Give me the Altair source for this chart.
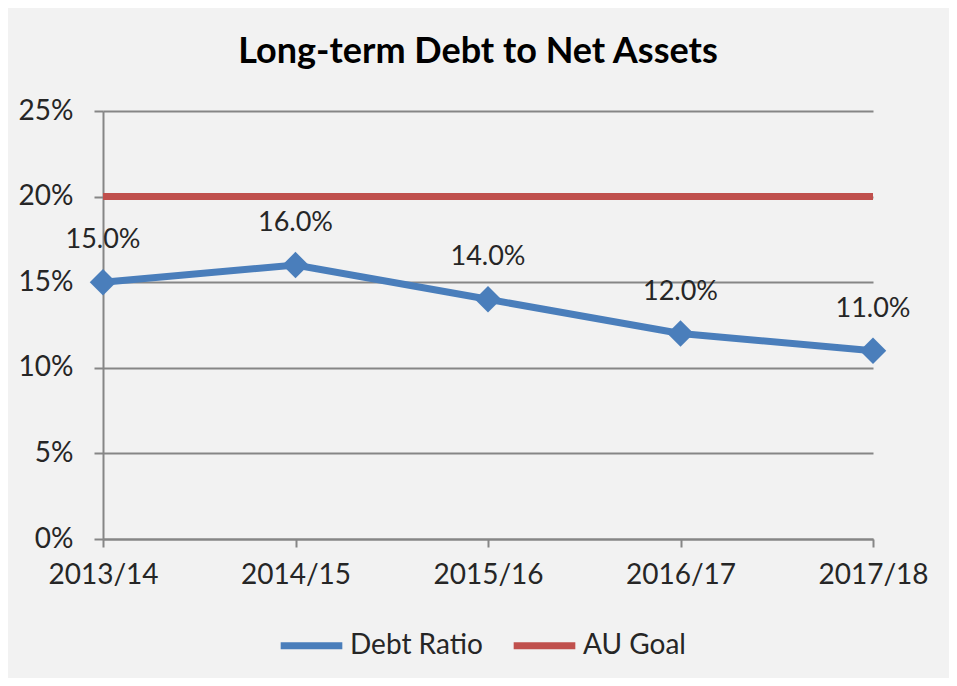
import altair as alt
import pandas as pd

years = ["2013/14", "2014/15", "2015/16", "2016/17", "2017/18"]
debt_ratio = [0.15, 0.16, 0.14, 0.12, 0.11]
au_goal = [0.20, 0.20, 0.20, 0.20, 0.20]
series_names = ["Debt Ratio", "AU Goal"]
series_colors = ["#4a7ebb", "#c0504d"]

rows = []
for y, v in zip(years, debt_ratio):
    rows.append({"year": y, "value": v, "series": "Debt Ratio"})
for y, v in zip(years, au_goal):
    rows.append({"year": y, "value": v, "series": "AU Goal"})
df = pd.DataFrame(rows)

FONT = "Lato"

x = alt.X("year:N", sort=years, title=None,
          scale=alt.Scale(type="point", padding=0),
          axis=alt.Axis(labelAngle=0, labelFontSize=28, labelColor="#262626",
                        labelFont=FONT, labelPadding=14, tickSize=8,
                        tickColor="#868686", tickWidth=2, domainColor="#868686",
                        domainWidth=2, grid=False))
y = alt.Y("value:Q", title=None,
          scale=alt.Scale(domain=[0, 0.25], nice=False),
          axis=alt.Axis(format=".0%", values=[0, 0.05, 0.10, 0.15, 0.20, 0.25],
                        labelFontSize=28, labelColor="#262626", labelFont=FONT,
                        labelPadding=21, tickSize=9, tickColor="#868686",
                        tickWidth=2, domainColor="#868686", domainWidth=2,
                        gridColor="#868686", gridWidth=2))
color = alt.Color("series:N", sort=series_names,
                  scale=alt.Scale(domain=series_names, range=series_colors),
                  legend=alt.Legend(title=None, orient="none", legendX=174, legendY=500,
                                    direction="horizontal", symbolType="stroke",
                                    symbolSize=3800, symbolStrokeWidth=7,
                                    labelFontSize=28, labelFont=FONT,
                                    labelColor="#262626", columnPadding=16,
                                    labelOffset=4))

base = alt.Chart(df)
lines = base.mark_line(strokeWidth=7).encode(x=x, y=y, color=color)
points = base.transform_filter(alt.datum.series == "Debt Ratio").mark_point(
    shape="diamond", filled=True, size=700, opacity=1, color="#4a7ebb"
).encode(x=x, y=y)
labels = base.transform_filter(alt.datum.series == "Debt Ratio").mark_text(
    dy=-42, fontSize=27, font=FONT, color="#262626"
).encode(x=x, y=y, text=alt.Text("value:Q", format=".1%"))

chart = alt.layer(lines, points, labels).properties(
    width=770, height=428,
    title=alt.TitleParams("Long-term Debt to Net Assets", fontSize=36, font=FONT,
                          fontWeight="bold", color="#000000", offset=26, dx=-10),
    autosize=alt.AutoSizeParams(type="none"),
    padding={"left": 95, "top": 103, "right": 76, "bottom": 139},
).configure(background="#f2f2f2").configure_view(stroke=None)

chart.save("out.html", embed_options={"renderer": "svg", "actions": False})
